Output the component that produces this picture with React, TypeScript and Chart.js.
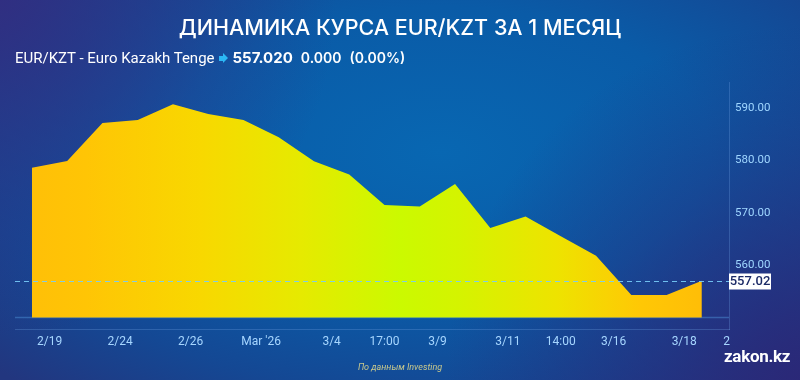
import React, { useEffect, useRef } from "react";
import { Chart, registerables } from "chart.js";

Chart.register(...registerables);

const pointIndex = [0, 1, 2, 3, 4, 5, 6, 7, 8, 9, 10, 11, 12, 13, 14, 15, 16, 17, 18, 19];
const rateValues = [
  578.6, 579.9, 587.15, 587.7, 590.7, 588.85, 587.7, 584.4, 579.85, 577.3,
  571.5, 571.2, 575.5, 567.1, 569.3, 565.5, 561.8, 554.3, 554.3, 557.02,
];
const xTickPositions = [0.5, 2.5, 4.5, 6.5, 8.5, 10, 11.5, 13.5, 15, 16.5, 18.5, 19.7];
const xTickLabels = ["2/19", "2/24", "2/26", "Mar '26", "3/4", "17:00", "3/9", "3/11", "14:00", "3/16", "3/18", "2"];
const yTickValues = [560, 570, 580, 590];
const baseValue = 550;
const yMin = 547.8;
const yMax = 594.8;
const xMin = -0.48;
const xMax = 19.77;

const lastValue = rateValues[rateValues.length - 1];

const overlayPlugin = {
  id: "overlay",
  beforeDatasetsDraw(chart: any) {
    const { ctx, chartArea, scales } = chart;
    const y = scales.y.getPixelForValue(baseValue);
    ctx.save();
    ctx.strokeStyle = "rgba(80,150,220,0.45)";
    ctx.lineWidth = 1.5;
    ctx.beginPath();
    ctx.moveTo(chartArea.left, y);
    ctx.lineTo(chartArea.right, y);
    ctx.stroke();
    ctx.restore();
  },
  afterDraw(chart: any) {
    const { ctx, chartArea, scales } = chart;
    const y = Math.round(scales.y.getPixelForValue(lastValue)) + 0.5;
    ctx.save();
    ctx.strokeStyle = "rgba(120,205,250,0.9)";
    ctx.lineWidth = 1;
    ctx.setLineDash([5, 4]);
    ctx.beginPath();
    ctx.moveTo(chartArea.left, y);
    ctx.lineTo(chartArea.right, y);
    ctx.stroke();
    ctx.setLineDash([]);
    const bx = chartArea.right;
    const bw = 42;
    const bh = 16;
    ctx.fillStyle = "#ffffff";
    ctx.fillRect(bx, y - bh / 2, bw, bh);
    ctx.fillStyle = "#1b2a66";
    ctx.font = "500 13px Roboto";
    ctx.textAlign = "center";
    ctx.textBaseline = "middle";
    ctx.fillText(lastValue.toFixed(2), bx + bw / 2, y + 0.5);
    ctx.restore();
  },
};

function makeFill(context: any) {
  const chart = context.chart;
  const { ctx, chartArea } = chart;
  if (!chartArea) return "#ffd000";
  const g = ctx.createLinearGradient(chartArea.left, 0, chartArea.right, 0);
  g.addColorStop(0.0, "#ffbe08");
  g.addColorStop(0.1, "#ffc505");
  g.addColorStop(0.26, "#f8d800");
  g.addColorStop(0.4, "#e6ea00");
  g.addColorStop(0.54, "#cbfa00");
  g.addColorStop(0.62, "#d4f400");
  g.addColorStop(0.76, "#eee300");
  g.addColorStop(0.875, "#ffc805");
  g.addColorStop(1.0, "#ffb908");
  return g;
}

export default function App() {
  const canvasRef = useRef<HTMLCanvasElement | null>(null);

  useEffect(() => {
    document.body.style.margin = "0";
    const canvas = canvasRef.current;
    if (!canvas) return;
    const chart = new Chart(canvas, {
      type: "line",
      data: {
        datasets: [
          {
            data: pointIndex.map((i) => ({ x: i, y: rateValues[i] })),
            fill: { value: baseValue },
            backgroundColor: makeFill,
            borderWidth: 0,
            borderColor: "rgba(0,0,0,0)",
            pointRadius: 0,
            tension: 0,
          },
        ],
      },
      options: {
        animation: false,
        responsive: false,
        devicePixelRatio: 1,
        layout: { padding: { top: 10, left: 15, right: 0, bottom: 0 } },
        plugins: {
          legend: { display: false },
          tooltip: { enabled: false },
          title: { display: false },
        },
        scales: {
          x: {
            type: "linear",
            min: xMin,
            max: xMax,
            grid: { display: false, drawTicks: false },
            border: { display: true, color: "rgba(110,160,225,0.3)", width: 1 },
            afterBuildTicks: (scale: any) => {
              scale.ticks = xTickPositions.map((v) => ({ value: v }));
            },
            afterFit: (scale: any) => {
              scale.height = 21;
            },
            ticks: {
              autoSkip: false,
              maxRotation: 0,
              minRotation: 0,
              padding: 6,
              color: "#a6d6ff",
              font: { family: "Roboto", size: 12 },
              callback: (_v: any, i: number) => xTickLabels[i],
            },
          },
          y: {
            type: "linear",
            position: "right",
            min: yMin,
            max: yMax,
            grid: { display: false, drawTicks: false },
            border: { display: true, color: "rgba(110,160,225,0.3)", width: 1 },
            afterBuildTicks: (scale: any) => {
              scale.ticks = yTickValues.map((v) => ({ value: v }));
            },
            afterFit: (scale: any) => {
              scale.width = 71;
            },
            ticks: {
              padding: 6,
              color: "#9fd6ff",
              font: { family: "Roboto", size: 11.5 },
              callback: (v: any) => Number(v).toFixed(2),
            },
          },
        },
      },
      plugins: [overlayPlugin],
    });
    return () => chart.destroy();
  }, []);

  return (
    <div
      style={{
        position: "fixed",
        left: 0,
        top: 0,
        width: 800,
        height: 380,
        overflow: "hidden",
        background:
          "radial-gradient(circle at 0% 0%, rgba(52,44,128,0.85) 0%, rgba(52,44,128,0) 38%), radial-gradient(circle at 100% 100%, rgba(44,38,118,0.9) 0%, rgba(44,38,118,0) 40%), radial-gradient(ellipse 75% 85% at 55% 40%, #0867b2 0%, #0a5ba7 45%, #144894 75%, #22367f 100%)",
        fontFamily: "Roboto, sans-serif",
      }}
    >
      <div
        style={{
          position: "absolute",
          left: 0,
          top: 12,
          width: 800,
          textAlign: "center",
          color: "#ffffff",
          fontFamily: "Inter, sans-serif",
          fontWeight: 500,
          fontSize: 21.5,
          lineHeight: "30px",
          letterSpacing: 0,
        }}
      >
        ДИНАМИКА КУРСА EUR/KZT ЗА 1 МЕСЯЦ
      </div>
      <div
        style={{
          position: "absolute",
          left: 15,
          top: 48,
          color: "#ffffff",
          fontSize: 15,
          lineHeight: "20px",
          whiteSpace: "nowrap",
          display: "flex",
          alignItems: "center",
        }}
      >
        <span>EUR/KZT - Euro Kazakh Tenge</span>
        <span
          aria-hidden="true"
          style={{ display: "inline-flex", alignItems: "center", margin: "0 5px 0 4px" }}
        >
          <span style={{ display: "inline-block", width: 4, height: 5, background: "#2bb8f5" }} />
          <span
            style={{
              display: "inline-block",
              width: 0,
              height: 0,
              borderTop: "5px solid transparent",
              borderBottom: "5px solid transparent",
              borderLeft: "5px solid #2bb8f5",
            }}
          />
        </span>
        <span style={{ fontFamily: "Inter, sans-serif", fontWeight: 700, fontSize: 15 }}>557.020</span>
        <span style={{ fontFamily: "Inter, sans-serif", fontWeight: 600, fontSize: 14, marginLeft: 8 }}>0.000</span>
        <span style={{ fontFamily: "Inter, sans-serif", fontWeight: 600, fontSize: 14, marginLeft: 8 }}>(0.00%)</span>
      </div>
      <canvas
        ref={canvasRef}
        width={800}
        height={280}
        style={{ position: "absolute", left: 0, top: 70, width: 800, height: 280 }}
      />
      <div
        style={{
          position: "absolute",
          left: 0,
          top: 360,
          width: 800,
          textAlign: "center",
          color: "#c9c98c",
          fontStyle: "italic",
          fontSize: 9,
          lineHeight: "14px",
        }}
      >
        По данным Investing
      </div>
      <div
        style={{
          position: "absolute",
          left: 724,
          top: 345,
          color: "#ffffff",
          fontWeight: 700,
          fontSize: 17,
          lineHeight: "22px",
          letterSpacing: -0.3,
        }}
      >
        zakon.kz
      </div>
    </div>
  );
}
